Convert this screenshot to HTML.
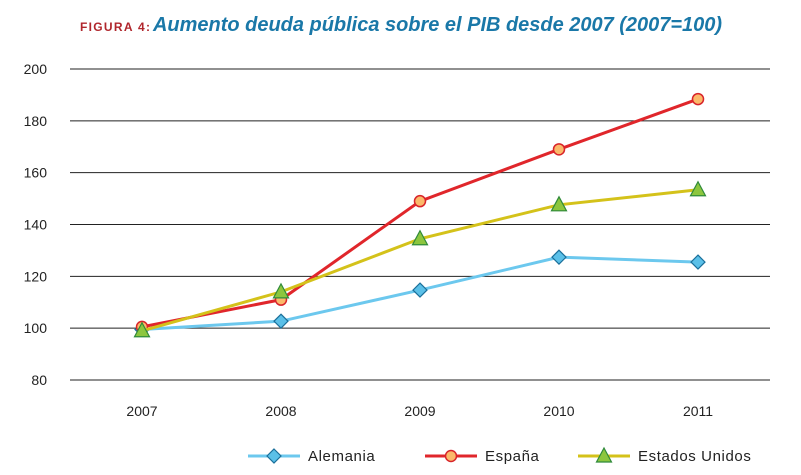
<!DOCTYPE html>
<html><head><meta charset="utf-8"><style>
html,body{margin:0;padding:0;background:#fff;}
body{width:801px;height:470px;overflow:hidden;font-family:"Liberation Sans",sans-serif;}
</style></head><body>
<svg id="chart" width="801" height="470">
<text x="80" y="31" font-size="12" fill="#b0262c" font-weight="bold" textLength="70" lengthAdjust="spacing">FIGURA 4:</text>
<text x="153" y="31" font-size="20" fill="#1a78a8" font-style="italic" font-weight="bold" textLength="569">Aumento deuda pública sobre el PIB desde 2007 (2007=100)</text>
<g id="grid"></g><g id="series"></g><g id="legend"></g>
</svg>
<script>
const years=["2007","2008","2009","2010","2011"];
const yTicks=[80,100,120,140,160,180,200];
const alemania=[99.5,102.7,114.7,127.4,125.5];
const espana=[100.5,111,149,169,188.4];
const eeuu=[99,114,134.5,147.6,153.4];
const NS="http://www.w3.org/2000/svg";
function y(v){return 380-(v-80)*(311/120);}
function x(i){return 142+i*139;}
function mk(t,a,p){const e=document.createElementNS(NS,t);for(const k in a)e.setAttribute(k,a[k]);p.appendChild(e);return e;}
const g=document.getElementById('grid');
yTicks.forEach(v=>{
 const l=mk('line',{x1:70,x2:770,y1:y(v),y2:y(v),stroke:'#222','stroke-width':1},g);
 
 
 const t=mk('text',{x:47,y:y(v)+5,'font-size':14,fill:'#222','text-anchor':'end'},g);t.textContent=v;
 
 
});
years.forEach((yr,i)=>{
 const t=mk('text',{x:x(i),y:416,'font-size':14,fill:'#222','text-anchor':'middle'},g);t.textContent=yr;
 
 
});
const s=document.getElementById('series');
function marker(type,cx,cy,color,p){
 let e;
 if(type==='d')e=mk('polygon',{points:`${cx},${cy-7} ${cx+7},${cy} ${cx},${cy+7} ${cx-7},${cy}`,fill:'#5bc0e8',stroke:'#1a6f9a','stroke-width':1.2},p);
 else if(type==='c')e=mk('circle',{cx,cy,r:5.5,fill:'#fbb96a',stroke:'#d8242a','stroke-width':1.5},p);
 else e=mk('polygon',{points:`${cx},${cy-8} ${cx+7.5},${cy+6} ${cx-7.5},${cy+6}`,fill:'#8cc63e',stroke:'#2f8a3a','stroke-width':1.2},p);
 return e;
}
function series(data,color,type,name){
 const pts=data.map((v,i)=>x(i)+','+y(v)).join(' ');
 const pl=mk('polyline',{points:pts,fill:'none',stroke:color,'stroke-width':3},s);
 
 
 data.forEach((v,i)=>{const m=marker(type,x(i),y(v),color,s);
  
  });
}
series(alemania,'#6cc8ee','d','alemania');
series(espana,'#e0262b','c','espana');
series(eeuu,'#d4c21a','t','estados-unidos');
const lg=document.getElementById('legend');
[['Alemania','#6cc8ee','d',248],['España','#e0262b','c',425],['Estados Unidos','#d4c21a','t',578]].forEach(([n,c,t,lx])=>{
 const e=mk('g',{},lg);
 
 
 mk('line',{x1:lx,x2:lx+52,y1:456,y2:456,stroke:c,'stroke-width':3},e);
 marker(t,lx+26,456,c,e);
 const tx=mk('text',{x:lx+60,y:461,'font-size':15,fill:'#222','letter-spacing':0.6},e);tx.textContent=n;
});
</script>
</body></html>
